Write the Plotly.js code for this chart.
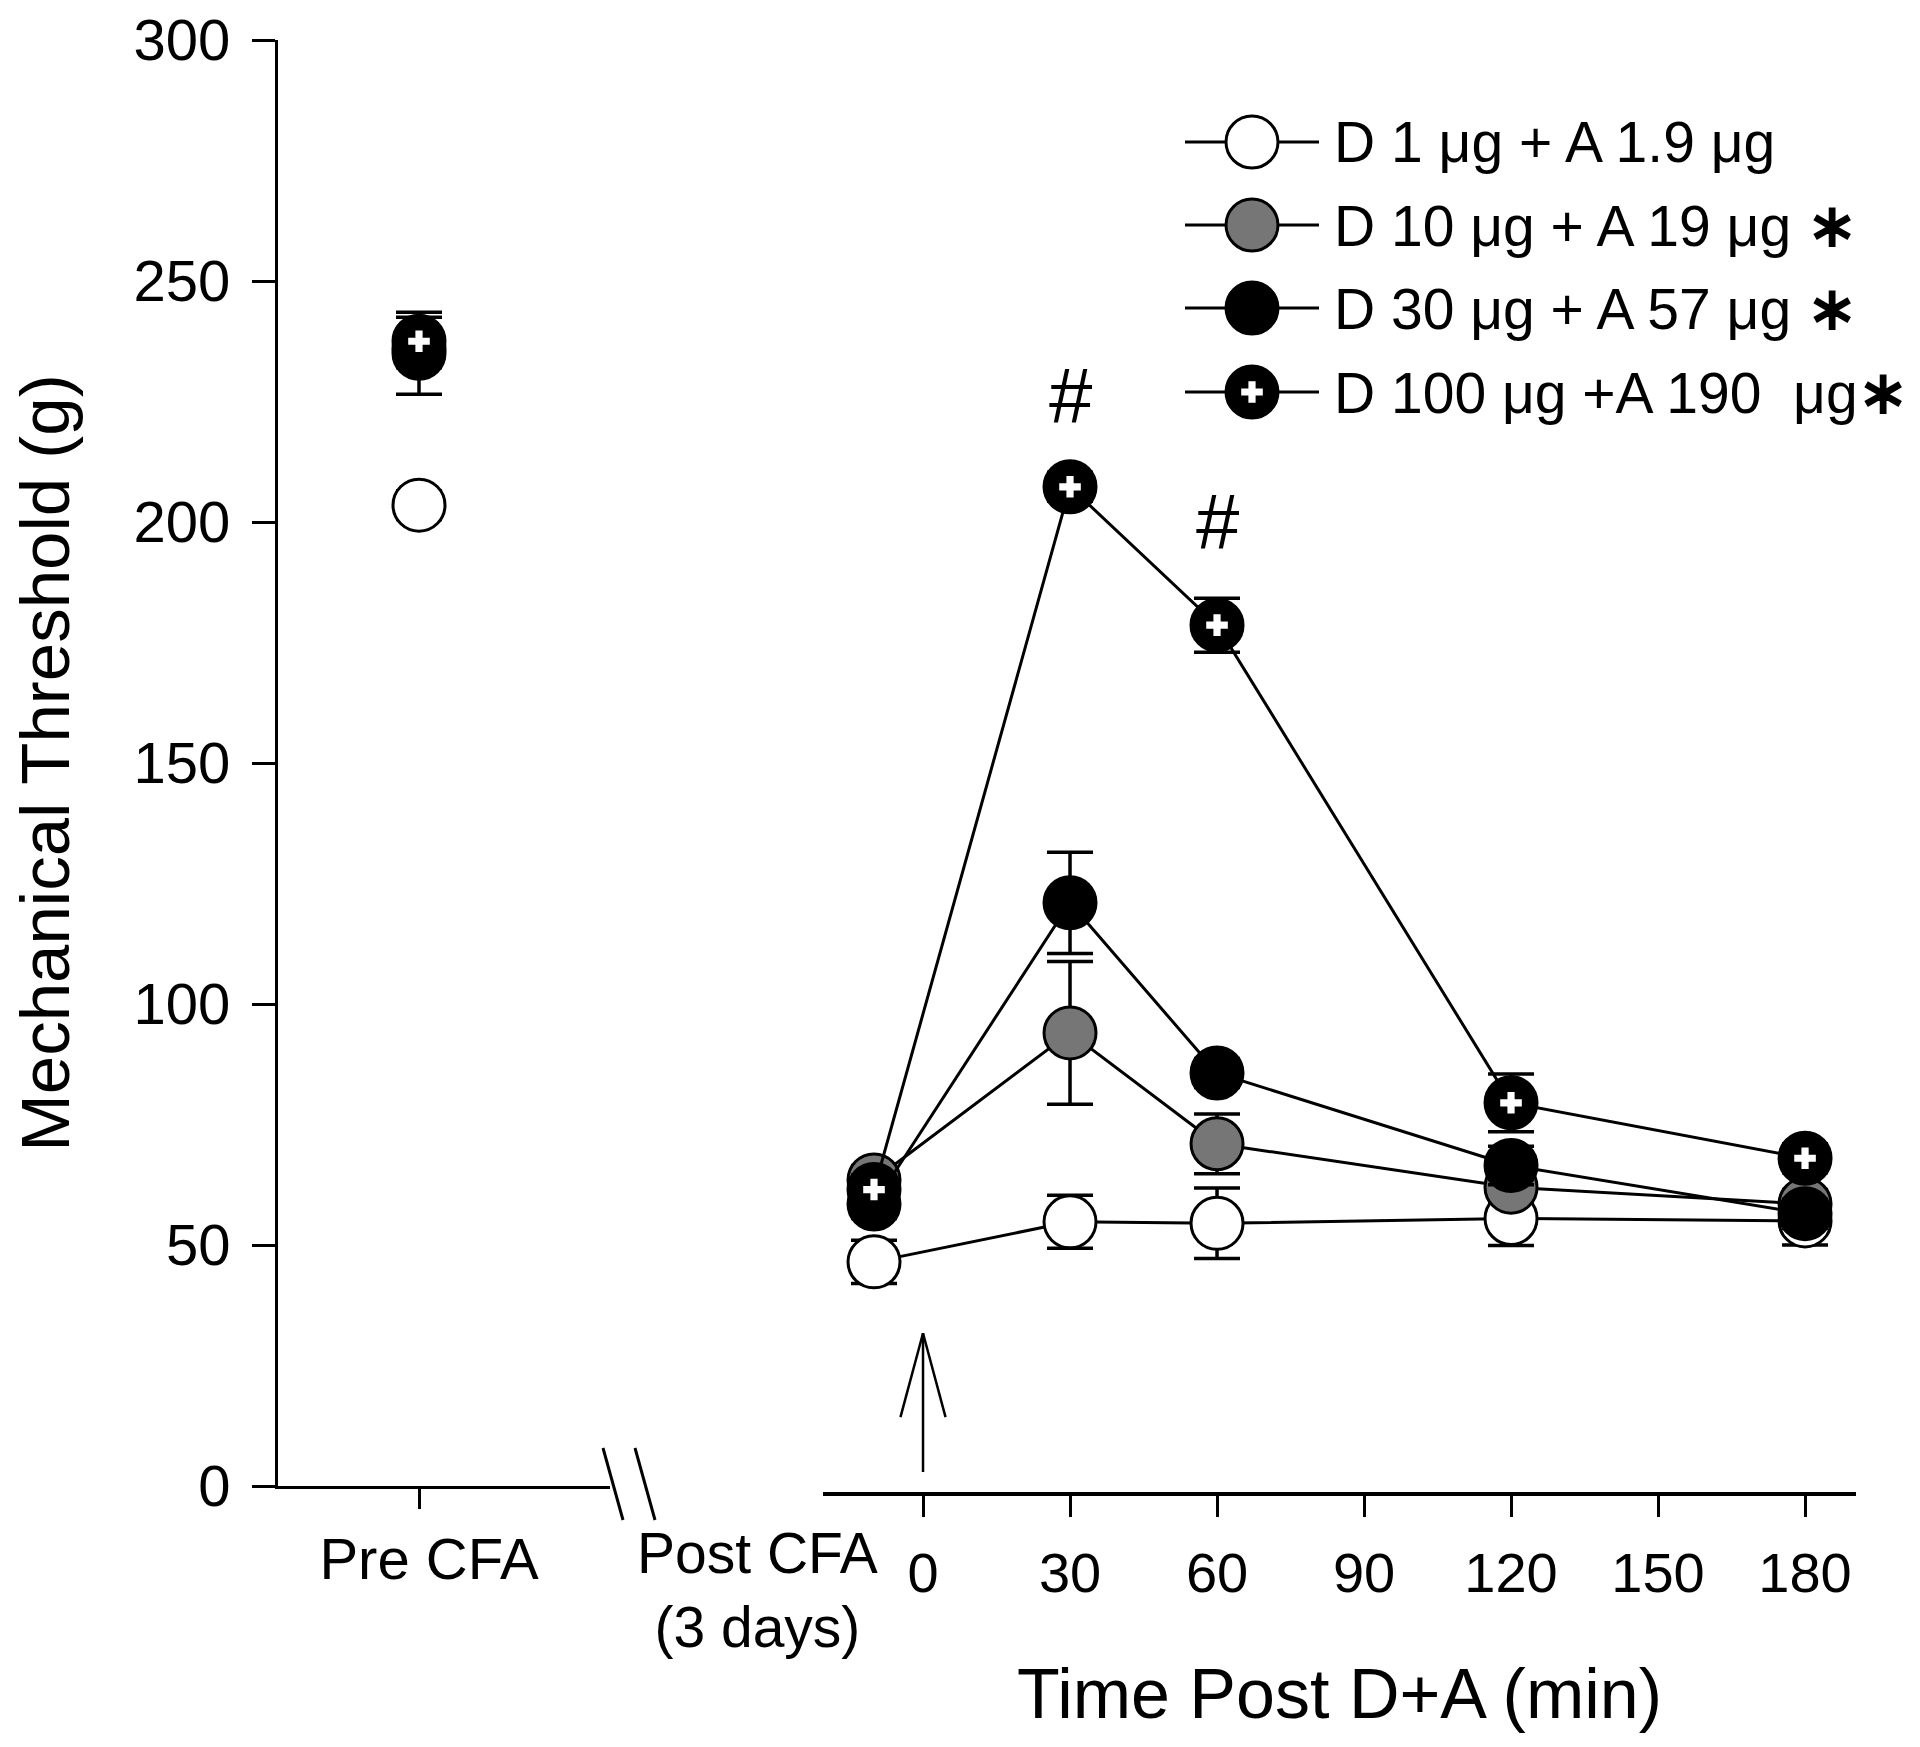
<!DOCTYPE html>
<html>
<head>
<meta charset="utf-8">
<script src="https://cdn.plot.ly/plotly-3.0.1.min.js"></script>
<style>html,body{margin:0;padding:0;background:#fff;}</style>
</head>
<body>
<div id="chart" style="width:1920px;height:1747px;"></div>
<script>
// ---------------- DATA ----------------
const groupNames = [
  'D 1 μg + A 1.9 μg',
  'D 10 μg + A 19 μg',
  'D 30 μg + A 57 μg',
  'D 100 μg +A 190\u00a0 μg'
];
const significant = [false, true, true, true];
const preLabel = ['Pre CFA'];
const preMean = [203.5, 236, 235, 237.5];
const preErr  = [3, 4, 8.5, 5];
// Post CFA (3 days) baseline is drawn at -10 min, then minutes after D+A
const times   = [-10, 30, 60, 120, 180];
const d1Mean   = [46.5, 54.8, 54.5, 55.5, 55];
const d1Err    = [4.5, 5.5, 7.3, 5.6, 5];
const d10Mean  = [63.5, 94, 71, 62, 58.5];
const d10Err   = [3, 14.8, 6.2, 3, 3];
const d30Mean  = [58.5, 121, 85.7, 66.5, 56.5];
const d30Err   = [3, 10.5, 3, 4, 3];
const d100Mean = [61.5, 207.3, 178.6, 79.5, 68];
const d100Err  = [3, 3, 5.6, 6, 3];
const hashTimes = [30, 60];         // "#" markers (D 100 group)
const injectionTime = 0;            // arrow
const xTicks = [0, 30, 60, 90, 120, 150, 180];
const yTicks = [0, 50, 100, 150, 200, 250, 300];

// ---------------- STYLE / LAYOUT HELPERS ----------------
const FONT = 'Liberation Sans, Arial, Helvetica, sans-serif';
const fills = ['#ffffff', '#767676', '#000000', '#000000'];
const L = 278, R = 1856, T = 40, B = 1493;
const W = R - L, H = B - T;
const px = x => (x - L) / W;
const py = y => (B - y) / H;
const MS = 52;

const means = [d1Mean, d10Mean, d30Mean, d100Mean];
const errs = [d1Err, d10Err, d30Err, d100Err];

const traces = [];
for (let i = 0; i < 4; i++) {
  traces.push({
    x: preLabel, y: [preMean[i]], xaxis: 'x', yaxis: 'y',
    mode: 'markers', showlegend: false, cliponaxis: false,
    error_y: {type: 'data', array: [preErr[i]], width: 23, thickness: 3.5, color: '#000'},
    marker: {symbol: 'circle', size: MS, color: fills[i], line: {color: '#000', width: 3}}
  });
}
for (let i = 0; i < 4; i++) {
  traces.push({
    x: times, y: means[i], xaxis: 'x2', yaxis: 'y',
    mode: 'lines+markers', showlegend: false, cliponaxis: false,
    line: {color: '#000', width: 3},
    error_y: {type: 'data', array: errs[i], width: 23, thickness: 3.5, color: '#000'},
    marker: {symbol: 'circle', size: MS, color: fills[i], line: {color: '#000', width: 3}}
  });
}
// white cross inside the D 100 markers
traces.push({x: preLabel, y: [preMean[3]], xaxis: 'x', yaxis: 'y', mode: 'markers', showlegend: false, cliponaxis: false,
  marker: {symbol: 'cross', size: 18, color: '#fff', line: {width: 0}}});
traces.push({x: times, y: d100Mean, xaxis: 'x2', yaxis: 'y', mode: 'markers', showlegend: false, cliponaxis: false,
  marker: {symbol: 'cross', size: 18, color: '#fff', line: {width: 0}}});

// custom legend (pixel-space helper axes x3/y3)
const legRows = [142, 225, 308, 392];
const legLineX = [1185, 1319], legMarkX = 1252, legTextX = 1332;
const annotations = [];
for (let i = 0; i < 4; i++) {
  traces.push({x: legLineX, y: [legRows[i], legRows[i]], xaxis: 'x3', yaxis: 'y3', mode: 'lines',
    showlegend: false, hoverinfo: 'skip', line: {color: '#000', width: 3}});
  traces.push({x: [legMarkX], y: [legRows[i]], xaxis: 'x3', yaxis: 'y3', mode: 'markers', showlegend: false, hoverinfo: 'skip',
    marker: {symbol: 'circle', size: MS, color: fills[i], line: {color: '#000', width: 3}}});
  const star = significant[i] ? (i === 3 ? '' : ' ') + '<b style="font-size:60px">∗</b>' : '';
  annotations.push({xref: 'x3', yref: 'y3', x: legTextX, y: legRows[i], xanchor: 'left', yanchor: 'middle',
    text: groupNames[i] + star, showarrow: false, font: {family: FONT, size: 57, color: '#000'}});
}
traces.push({x: [legMarkX], y: [legRows[3]], xaxis: 'x3', yaxis: 'y3', mode: 'markers', showlegend: false, hoverinfo: 'skip',
  marker: {symbol: 'cross', size: 18, color: '#fff', line: {width: 0}}});

// "#" significance markers above D 100
hashTimes.forEach(t => {
  const k = times.indexOf(t);
  annotations.push({xref: 'x2', yref: 'y', x: t, y: d100Mean[k] + d100Err[k], yshift: 76, yanchor: 'middle',
    text: '#', showarrow: false, font: {family: FONT, size: 78, color: '#000'}});
});
// Post CFA label
annotations.push({xref: 'paper', yref: 'paper', x: px(757), y: py(1590), xanchor: 'center', yanchor: 'middle',
  text: 'Post CFA<br>(3 days)', showarrow: false, align: 'center', font: {family: FONT, size: 57, color: '#000'}});

const shapes = [
  // axis break slashes
  {type: 'line', xref: 'paper', yref: 'paper', x0: px(603), y0: py(1448), x1: px(623), y1: py(1520), line: {color: '#000', width: 3}},
  {type: 'line', xref: 'paper', yref: 'paper', x0: px(635), y0: py(1448), x1: px(655), y1: py(1520), line: {color: '#000', width: 3}},
  // injection arrow at t = 0
  {type: 'line', xref: 'x2', yref: 'y', x0: injectionTime, y0: 2.9, x1: injectionTime, y1: 31.7, line: {color: '#000', width: 2.5}},
  {type: 'line', xref: 'x2', yref: 'y', x0: injectionTime, y0: 31.7, x1: injectionTime - 4.6, y1: 14.3, line: {color: '#000', width: 2.5}},
  {type: 'line', xref: 'x2', yref: 'y', x0: injectionTime, y0: 31.7, x1: injectionTime + 4.6, y1: 14.3, line: {color: '#000', width: 2.5}}
];

const axisFont = {family: FONT, size: 56, color: '#000'};
const layout = {
  width: 1920, height: 1747,
  margin: {l: L, r: 1920 - R, t: T, b: 1747 - B},
  paper_bgcolor: '#fff', plot_bgcolor: 'rgba(0,0,0,0)',
  showlegend: false,
  font: {family: FONT, color: '#000'},
  yaxis: {
    domain: [py(1486), 1], range: [0, 300], anchor: 'x',
    tickvals: yTicks, ticks: 'outside', ticklen: 23, tickwidth: 3, tickcolor: '#000',
    showline: true, linewidth: 3, linecolor: '#000', showgrid: false, zeroline: false,
    tickfont: {family: FONT, size: 58, color: '#000'}, ticklabelstandoff: 10,
    title: {text: 'Mechanical Threshold (g)', font: {family: FONT, size: 69, color: '#000'}, standoff: 42}
  },
  xaxis: {
    domain: [0, px(610)], type: 'category', range: [-0.4247, 0.5753], anchor: 'y',
    ticks: 'outside', ticklen: 20, tickwidth: 3, tickcolor: '#000',
    showline: true, linewidth: 3, linecolor: '#000', showgrid: false, zeroline: false,
    tickfont: {family: FONT, size: 58, color: '#000'}, ticklabelshift: 10
  },
  xaxis2: {
    domain: [px(823), 1], range: [-20.41, 190.4], anchor: 'free', position: 0,
    tickvals: xTicks, ticks: 'outside', ticklen: 21, tickwidth: 3, tickcolor: '#000',
    showline: true, linewidth: 3.5, linecolor: '#000', showgrid: false, zeroline: false,
    tickfont: axisFont, ticklabelstandoff: 8,
    title: {text: 'Time Post D+A (min)', font: {family: FONT, size: 70, color: '#000'}, standoff: 66}
  },
  xaxis3: {domain: [0, 1], range: [L, R], visible: false, anchor: 'y3', fixedrange: true},
  yaxis3: {domain: [0, 1], range: [B, T], visible: false, anchor: 'x3', fixedrange: true},
  annotations: annotations,
  shapes: shapes
};

Plotly.newPlot('chart', traces, layout, {staticPlot: true});
</script>
</body>
</html>
